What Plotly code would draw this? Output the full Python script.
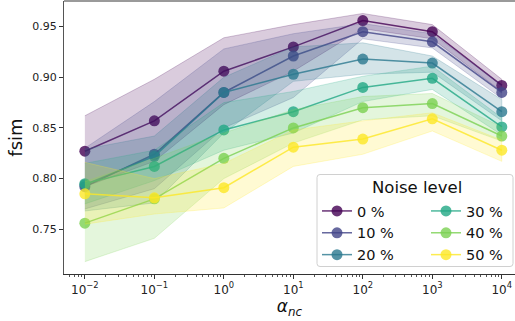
import plotly.graph_objects as go

# ---- data -------------------------------------------------------------
alpha_nc = [1e-2, 1e-1, 1e0, 1e1, 1e2, 1e3, 1e4]
noise_labels = ["0 %", "10 %", "20 %", "30 %", "40 %", "50 %"]
colors = ["#440154", "#414487", "#2a788e", "#22a884", "#7ad151", "#fde725"]

mean_0 = [0.827, 0.857, 0.906, 0.930, 0.956, 0.945, 0.892]
mean_10 = [0.792, 0.824, 0.885, 0.921, 0.945, 0.935, 0.885]
mean_20 = [0.794, 0.822, 0.885, 0.903, 0.918, 0.914, 0.866]
mean_30 = [0.795, 0.812, 0.848, 0.866, 0.890, 0.899, 0.851]
mean_40 = [0.756, 0.780, 0.820, 0.850, 0.870, 0.874, 0.842]
mean_50 = [0.785, 0.781, 0.791, 0.831, 0.839, 0.859, 0.828]

low_0 = [0.792, 0.817, 0.873, 0.906, 0.948, 0.938, 0.886]
high_0 = [0.862, 0.898, 0.939, 0.952, 0.963, 0.952, 0.898]
low_10 = [0.770, 0.790, 0.850, 0.880, 0.938, 0.929, 0.879]
high_10 = [0.830, 0.876, 0.928, 0.943, 0.953, 0.943, 0.892]
low_20 = [0.768, 0.776, 0.845, 0.896, 0.903, 0.905, 0.857]
high_20 = [0.829, 0.842, 0.900, 0.930, 0.934, 0.921, 0.878]
low_30 = [0.775, 0.798, 0.828, 0.845, 0.876, 0.888, 0.843]
high_30 = [0.815, 0.828, 0.875, 0.886, 0.901, 0.911, 0.860]
low_40 = [0.718, 0.741, 0.800, 0.835, 0.858, 0.862, 0.837]
high_40 = [0.797, 0.820, 0.845, 0.868, 0.881, 0.884, 0.851]
low_50 = [0.755, 0.765, 0.771, 0.812, 0.824, 0.847, 0.817]
high_50 = [0.816, 0.800, 0.815, 0.848, 0.857, 0.865, 0.838]

means = [mean_0, mean_10, mean_20, mean_30, mean_40, mean_50]
lows = [low_0, low_10, low_20, low_30, low_40, low_50]
highs = [high_0, high_10, high_20, high_30, high_40, high_50]

x_tickvals = [1e-2, 1e-1, 1e0, 1e1, 1e2, 1e3, 1e4]
x_ticktext = ["10<sup>−2</sup>", "10<sup>−1</sup>", "10<sup>0</sup>", "10<sup>1</sup>",
              "10<sup>2</sup>", "10<sup>3</sup>", "10<sup>4</sup>"]
y_tickvals = [0.75, 0.80, 0.85, 0.90, 0.95]
y_ticktext = ["0.75", "0.80", "0.85", "0.90", "0.95"]

# minor log ticks: 2..9 times every decade that falls in view
x_minor = [m * 10.0 ** e for e in range(-3, 5) for m in range(2, 10)]

# ---- layout geometry (pixels) ----------------------------------------
W, H = 515, 321
ML, MR, MT, MB = 64, 0, 1, 47
PW, PH = W - ML - MR, H - MT - MB
FONT = "DejaVu Sans"


def px(xp):
    return (xp - ML) / PW


def py(yp):
    return (H - MB - yp) / PH


def rgba(hexcol, a):
    h = hexcol.lstrip("#")
    r, g, b = int(h[0:2], 16), int(h[2:4], 16), int(h[4:6], 16)
    return f"rgba({r},{g},{b},{a})"


fig = go.Figure()

# legend column assignment: three entries per column
legend_of = ["legend", "legend", "legend", "legend2", "legend2", "legend2"]

for i, lab in enumerate(noise_labels):
    col = colors[i]
    # shaded spread band
    fig.add_trace(go.Scatter(
        x=alpha_nc + alpha_nc[::-1],
        y=lows[i] + highs[i][::-1],
        mode="lines",
        fill="toself",
        fillcolor=rgba(col, 0.2),
        line=dict(color=rgba(col, 0.22), width=1),
        hoverinfo="skip",
        showlegend=False,
    ))
    # mean curve
    fig.add_trace(go.Scatter(
        x=alpha_nc, y=means[i],
        mode="lines+markers",
        name=lab,
        line=dict(color=rgba(col, 0.8), width=1.5),
        marker=dict(color=rgba(col, 0.8), size=11, line=dict(width=0)),
        legend=legend_of[i],
    ))

# legend frame (rounded box)
bx0, bx1, by0, by1 = 317, 513, 174.5, 266.5
r = 3
rx, ry = r / PW, r / PH
X0, X1, Y0, Y1 = px(bx0), px(bx1), py(by1), py(by0)
path = (f"M{X0+rx},{Y0} L{X1-rx},{Y0} Q{X1},{Y0} {X1},{Y0+ry} "
        f"L{X1},{Y1-ry} Q{X1},{Y1} {X1-rx},{Y1} L{X0+rx},{Y1} "
        f"Q{X0},{Y1} {X0},{Y1-ry} L{X0},{Y0+ry} Q{X0},{Y0} {X0+rx},{Y0} Z")
fig.add_shape(type="path", path=path, xref="paper", yref="paper",
              fillcolor="rgba(255,255,255,0.8)", line=dict(color="#d0d0d0", width=1),
              layer="above")

# top spine
fig.add_shape(type="line", xref="paper", yref="paper", x0=0, x1=1, y0=1, y1=1,
              line=dict(color="#9a9a9a", width=2), layer="above")

fig.add_annotation(text="Noise level", xref="paper", yref="paper",
                   x=px(416.5), y=py(187), xanchor="center", yanchor="middle",
                   showarrow=False, font=dict(family=FONT, size=16.5, color="#111"))

legend_common = dict(
    bgcolor="rgba(0,0,0,0)", borderwidth=0,
    font=dict(family=FONT, size=14.5, color="#111"),
    xanchor="left", yanchor="top", tracegroupgap=0,
    itemwidth=30,
)

fig.update_layout(
    width=W, height=H,
    margin=dict(l=ML, r=MR, t=MT, b=MB, pad=0),
    paper_bgcolor="white", plot_bgcolor="white",
    font=dict(family=FONT, color="#111"),
    showlegend=True,
    legend=dict(x=px(317), y=py(195), **legend_common),
    legend2=dict(x=px(426), y=py(195), **legend_common),
    xaxis=dict(
        type="log", range=[-2.3, 4.19],
        tickvals=x_tickvals, ticktext=x_ticktext,
        ticks="outside", ticklen=4, tickwidth=1, tickcolor="#333",
        showgrid=False, zeroline=False,
        showline=True, linecolor="#333", linewidth=1.2,
        tickfont=dict(family=FONT, size=12, color="#222"),
        minor=dict(tickvals=x_minor, ticks="outside", ticklen=2, tickwidth=0.8,
                   tickcolor="#555", showgrid=False),
        title=dict(text="<i>α</i><sub><i>nc</i></sub>", font=dict(family=FONT, size=17, color="#111"),
                   standoff=3),
    ),
    yaxis=dict(
        range=[0.7058, 0.9753],
        tickvals=y_tickvals, ticktext=y_ticktext,
        ticks="outside", ticklen=4, tickwidth=1, tickcolor="#333",
        showgrid=False, zeroline=False,
        showline=True, linecolor="#555", linewidth=1.2,
        tickfont=dict(family=FONT, size=11, color="#222"),
        title=dict(text="fsim", font=dict(family=FONT, size=18, color="#111"), standoff=4),
    ),
)

fig.write_html("out.html")
